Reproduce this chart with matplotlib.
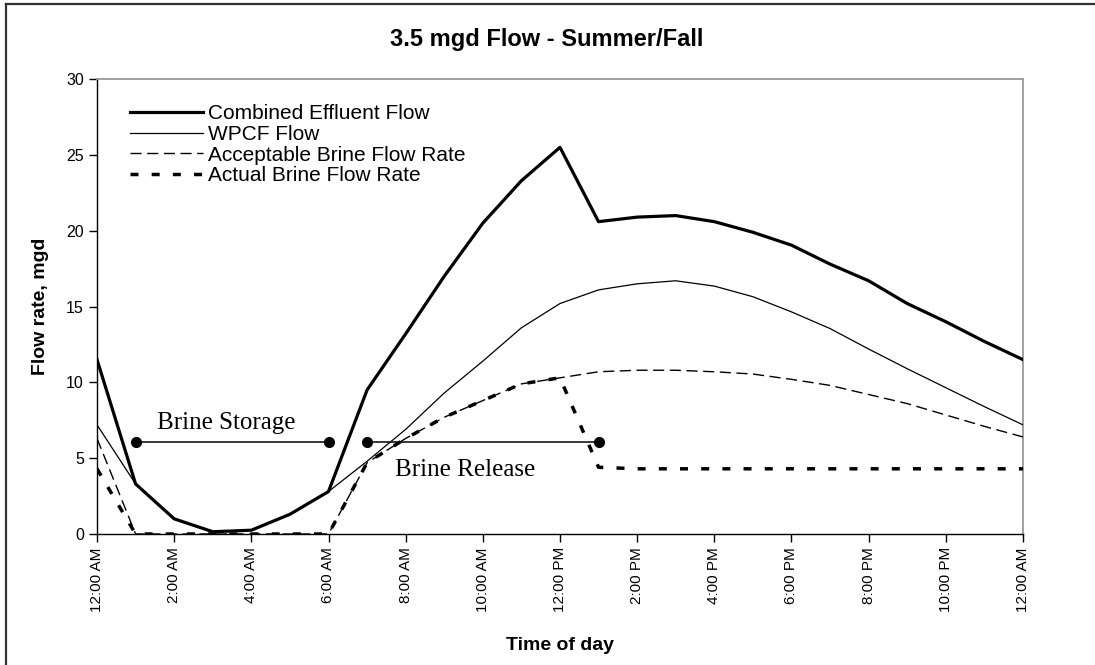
import numpy as np
import matplotlib
matplotlib.use("Agg")
import matplotlib.pyplot as plt
from matplotlib.lines import Line2D

plt.rcParams['font.family'] = ['Liberation Sans', 'DejaVu Sans']

# hours from midnight to midnight
hours = list(range(25))
tick_labels = ["12:00 AM", "2:00 AM", "4:00 AM", "6:00 AM", "8:00 AM", "10:00 AM",
               "12:00 PM", "2:00 PM", "4:00 PM", "6:00 PM", "8:00 PM", "10:00 PM",
               "12:00 AM"]

combined = [11.5, 3.3, 1.0, 0.15, 0.25, 1.3, 2.8, 9.5, 13.2, 17.0, 20.5, 23.3, 25.5,
            20.6, 20.9, 21.0, 20.6, 19.9, 19.05, 17.8, 16.7, 15.2, 14.0, 12.7, 11.5]
wpcf = [7.2, 3.3, 1.0, 0.15, 0.25, 1.3, 2.8, 4.8, 6.9, 9.3, 11.4, 13.6, 15.2,
        16.1, 16.5, 16.7, 16.35, 15.65, 14.65, 13.55, 12.2, 10.9, 9.65, 8.4, 7.2]
acceptable = [6.3, 0, 0, 0, 0, 0, 0, 4.7, 6.3, 7.7, 8.8, 9.9, 10.3,
              10.7, 10.8, 10.8, 10.7, 10.55, 10.2, 9.8, 9.2, 8.6, 7.85, 7.1, 6.4]
actual = [4.3, 0, 0, 0, 0, 0, 0, 4.7, 6.3, 7.7, 8.8, 9.9, 10.3,
          4.4, 4.3, 4.3, 4.3, 4.3, 4.3, 4.3, 4.3, 4.3, 4.3, 4.3, 4.3]

# annotation spans (hour start, hour end, level)
storage = (1, 6, 6.1)
release = (7, 13, 6.1)

fig = plt.figure(figsize=(10.95, 6.65), dpi=100)
ax = fig.add_axes([0.0886, 0.197, 0.8456, 0.684])

ax.plot(hours, acceptable, color='black', lw=1.0, dashes=(8, 4),
        label='Acceptable Brine Flow Rate', zorder=3)
ax.plot(hours, actual, color='black', lw=2.5, dashes=(2.3, 3.8),
        label='Actual Brine Flow Rate', zorder=4)
ax.plot(hours, wpcf, color='black', lw=0.9, label='WPCF Flow', zorder=5)
ax.plot(hours, combined, color='black', lw=2.3, label='Combined Effluent Flow', zorder=6)

# brine storage / release markers
ax.plot([storage[0], storage[1]], [storage[2]] * 2, color='black', lw=1.1,
        marker='o', ms=7, zorder=7)
ax.text((storage[0] + storage[1]) / 2 - 0.15, storage[2] + 1.2, 'Brine Storage',
        family='Liberation Serif', fontsize=18, ha='center', va='center')
ax.plot([release[0], release[1]], [release[2]] * 2, color='black', lw=1.1,
        marker='o', ms=7, zorder=7)
ax.text((release[0] + release[1]) / 2 - 0.45, release[2] - 1.9, 'Brine Release',
        family='Liberation Serif', fontsize=18, ha='center', va='center')

ax.set_xlim(0, 24)
ax.set_ylim(0, 30)
ax.set_xticks(range(0, 25, 2))
ax.set_xticklabels(tick_labels, rotation=90, fontsize=11)
ax.set_yticks(range(0, 31, 5))
ax.tick_params(axis='y', labelsize=11.5, direction='out', length=6, width=1)
ax.tick_params(axis='x', direction='out', length=6, width=1)

for s in ['top', 'right']:
    ax.spines[s].set_color('#999999')
    ax.spines[s].set_linewidth(1.3)
for s in ['left', 'bottom']:
    ax.spines[s].set_color('black')
    ax.spines[s].set_linewidth(1.0)

ax.set_ylabel('Flow rate, mgd', fontsize=14, fontweight='bold', labelpad=12)
ax.set_xlabel('Time of day', fontsize=14, fontweight='bold', labelpad=18)

handles, labels = ax.get_legend_handles_labels()
order = [3, 2, 0, 1]
ax.legend([handles[i] for i in order], [labels[i] for i in order],
          loc='upper left', bbox_to_anchor=(0.02, 0.977), frameon=False,
          fontsize=15, handlelength=3.5, handletextpad=0.25, labelspacing=0.08,
          borderaxespad=0.3)

fig.text(0.4995, 0.94, '3.5 mgd Flow - Summer/Fall', ha='center', va='center',
         fontsize=17, fontweight='bold')

# outer frame (top and left edges only)
fig.add_artist(Line2D([0.0055, 1.0], [0.994, 0.994], color='#333333', lw=1.6,
                      transform=fig.transFigure))
fig.add_artist(Line2D([0.0055, 0.0055], [0.0, 0.994], color='#333333', lw=1.6,
                      transform=fig.transFigure))

fig.savefig('out.png', dpi=100)
